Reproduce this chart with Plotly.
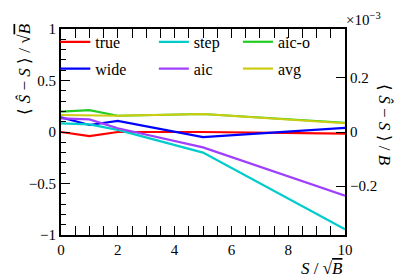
import plotly.graph_objects as go

x_vals = [0, 1, 2, 5, 10]
true_vals = [0.0, -0.04, 0.0, 0.0, -0.015]
wide_vals = [0.143, 0.068, 0.107, -0.05, 0.04]
step_vals = [0.084, 0.074, 0.02, -0.2, -0.945]
aic_vals = [0.133, 0.123, 0.036, -0.149, -0.618]
aico_vals = [0.197, 0.213, 0.158, 0.175, 0.09]
avg_vals = [0.165, 0.158, 0.158, 0.175, 0.085]

series = [
    ("true", true_vals, "#ff0000", "legend"),
    ("wide", wide_vals, "#0000ff", "legend"),
    ("step", step_vals, "#00cccc", "legend2"),
    ("aic", aic_vals, "#a040ff", "legend2"),
    ("aic-o", aico_vals, "#22cc22", "legend3"),
    ("avg", avg_vals, "#cccc11", "legend3"),
]

left_ticks = [-1, -0.5, 0, 0.5, 1]
left_text = ["\u22121", "\u22120.5", "0", "0.5", "1"]
right_range = [-0.381, 0.381]
right_ticks = [-0.2, 0, 0.2]
right_text = ["\u22120.2", "0", "0.2"]

FONT = "Liberation Serif"
TF = dict(family=FONT, size=15, color="black")
fig = go.Figure()
for name, vals, col, lg in series:
    fig.add_trace(go.Scatter(x=x_vals, y=vals, mode="lines", name=name,
                             line=dict(color=col, width=2.2), legend=lg,
                             legendgroup=name))
# carrier for the right-hand axis (draws nothing)
fig.add_trace(go.Scatter(x=[x_vals[0]], y=[right_ticks[1]], yaxis="y2", mode="none",
                         hoverinfo="skip", showlegend=False))

common_leg = dict(orientation="v", bgcolor="rgba(0,0,0,0)", borderwidth=0,
                  tracegroupgap=3, font=dict(family=FONT, size=16, color="black"),
                  yanchor="top", xanchor="left", y=1.02)
fig.update_layout(
    template="none",
    width=407, height=277,
    margin=dict(l=61, r=62, t=29, b=42),
    paper_bgcolor="white", plot_bgcolor="white",
    font=TF,
    legend=dict(x=-0.02, **common_leg),
    legend2=dict(x=0.327, **common_leg),
    legend3=dict(x=0.623, **common_leg),
    xaxis=dict(range=[0, 10], tickvals=[0, 2, 4, 6, 8, 10], ticks="inside",
               ticklen=9, tickwidth=1.3, tickcolor="black",
               minor=dict(dtick=0.5, ticklen=5, tickwidth=1.3, ticks="inside", tickcolor="black"),
               showline=True, linewidth=2, linecolor="black", mirror="allticks",
               showgrid=False, zeroline=False, tickfont=TF),
    yaxis=dict(range=[-1, 1], tickvals=left_ticks, ticktext=left_text, ticks="inside",
               ticklen=9, tickwidth=1.3, tickcolor="black",
               minor=dict(dtick=0.1, ticklen=5, tickwidth=1.3, ticks="inside", tickcolor="black"),
               showline=True, linewidth=2, linecolor="black", mirror=False,
               showgrid=False, zeroline=False, tickfont=TF),
    yaxis2=dict(range=right_range, overlaying="y", side="right", anchor="x",
                tickvals=right_ticks, ticktext=right_text, ticks="inside",
                ticklen=9, tickwidth=1.3, tickcolor="black",
                showline=True, linewidth=2, linecolor="black",
                showgrid=False, zeroline=False, tickfont=TF),
    showlegend=True,
)

sqrtB = "\u221a<span style='text-decoration:overline'><i>B</i></span>"
fig.add_annotation(text="\u27e8 <i>\u015c</i> \u2212 <i>S</i> \u27e9 / " + sqrtB,
                   textangle=-90, xref="paper", yref="paper",
                   x=(24 - 61) / 284, y=(235 - 22) / 206, xanchor="center", yanchor="top",
                   showarrow=False, font=dict(family=FONT, size=17, color="black"))
fig.add_annotation(text="\u27e8 <i>\u015c</i> \u2212 <i>S</i> \u27e9 / <i>B</i>",
                   textangle=90, xref="paper", yref="paper",
                   x=(385 - 61) / 284, y=(235 - 125) / 206, xanchor="center", yanchor="middle",
                   showarrow=False, font=dict(family=FONT, size=17, color="black"))
fig.add_annotation(text="<i>S</i> / " + sqrtB, xref="paper", yref="paper",
                   x=1.0, y=(235 - 268) / 206, xanchor="right", yanchor="middle",
                   showarrow=False, font=dict(family=FONT, size=17, color="black"))
fig.add_annotation(text="\u00d710<sup>\u22123</sup>", xref="paper", yref="paper",
                   x=(344 - 61) / 284, y=(235 - 19) / 206, xanchor="left", yanchor="middle",
                   showarrow=False, font=dict(family=FONT, size=15, color="black"))

fig.write_html("out.html", config={"displayModeBar": False},
               post_script="document.body.style.margin='0';document.body.style.overflow='hidden';")
